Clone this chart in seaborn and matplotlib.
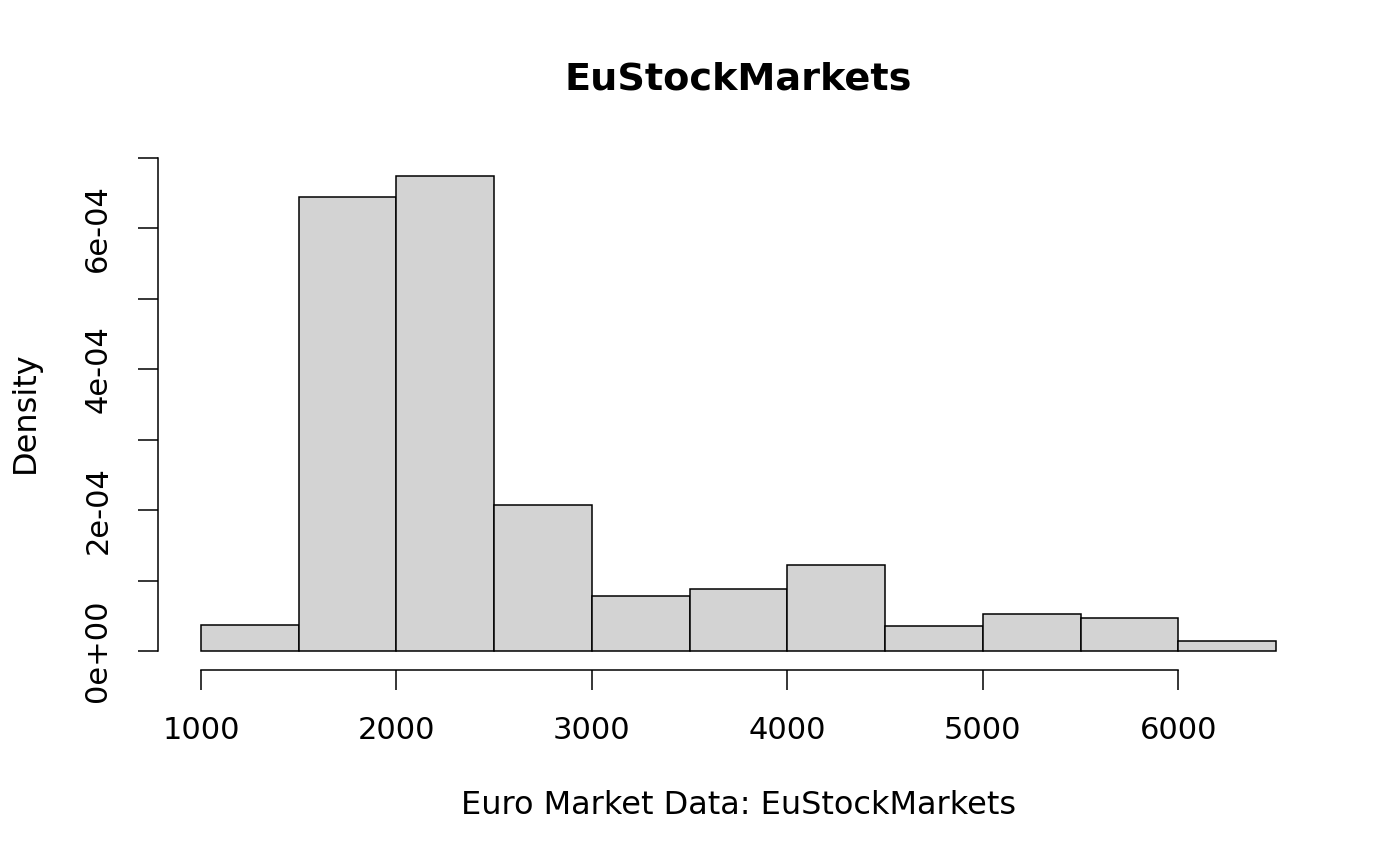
import numpy as np
import pandas as pd
import matplotlib
matplotlib.use('Agg')
import matplotlib.pyplot as plt
import seaborn as sns

# Histogram bins (breaks) and density per bin
bin_edges = [1000, 1500, 2000, 2500, 3000, 3500, 4000, 4500, 5000, 5500, 6000, 6500]
density = [0.37e-4, 6.44e-4, 6.74e-4, 2.07e-4, 0.78e-4, 0.88e-4,
           1.22e-4, 0.355e-4, 0.525e-4, 0.47e-4, 0.14e-4]
x_ticks = [1000, 2000, 3000, 4000, 5000, 6000]
y_ticks = [0, 1e-4, 2e-4, 3e-4, 4e-4, 5e-4, 6e-4, 7e-4]
y_tick_labels = ['0e+00', '', '2e-04', '', '4e-04', '', '6e-04', '']

centers = [(a + b) / 2 for a, b in zip(bin_edges[:-1], bin_edges[1:])]
df = pd.DataFrame({'value': centers, 'density': density})

sns.set_style('white')
plt.rcParams['font.family'] = ['DejaVu Sans']
plt.rcParams['text.color'] = 'black'
plt.rcParams['xtick.color'] = 'black'
plt.rcParams['ytick.color'] = 'black'

W, H = 1400, 866
fig = plt.figure(figsize=(14, 8.66), dpi=100)
ax = fig.add_axes([158 / W, 1 - 670 / H, (1319 - 158) / W, (670 - 157) / H])

sns.histplot(data=df, x='value', weights='density', bins=bin_edges,
             color='#D3D3D3', edgecolor='black', linewidth=1.1, alpha=1.0, ax=ax)

ax.set_xlim(780, 6720)
ax.set_ylim(-0.27e-4, 7.01e-4)

for s in ['top', 'right']:
    ax.spines[s].set_visible(False)
ax.spines['bottom'].set_bounds(1000, 6000)
ax.spines['left'].set_bounds(0, 7e-4)
for s in ['bottom', 'left']:
    ax.spines[s].set_linewidth(1.1)
    ax.spines[s].set_color('black')

ax.set_xticks(x_ticks)
ax.set_xticklabels([str(t) for t in x_ticks])
ax.set_yticks(y_ticks)
ax.set_yticklabels(y_tick_labels, rotation=90, va='center')
ax.tick_params(axis='both', direction='out', length=14.4, width=1.1,
               labelsize=22, pad=18.5, color='black', labelcolor='black',
               bottom=True, left=True)

ax.set_xlabel('')
ax.set_ylabel('')
fig.text(0.5 * (158 + 1319) / W, 1 - 805 / H, 'Euro Market Data: EuStockMarkets',
         fontsize=23, ha='center', va='center')
fig.text(25 / W, 1 - 412 / H, 'Density', fontsize=23, rotation=90,
         ha='center', va='center')
fig.text(0.5 * (158 + 1319) / W, 1 - 80 / H, 'EuStockMarkets',
         fontsize=27.5, fontweight='bold', ha='center', va='center')

fig.savefig('out.png', dpi=100)
